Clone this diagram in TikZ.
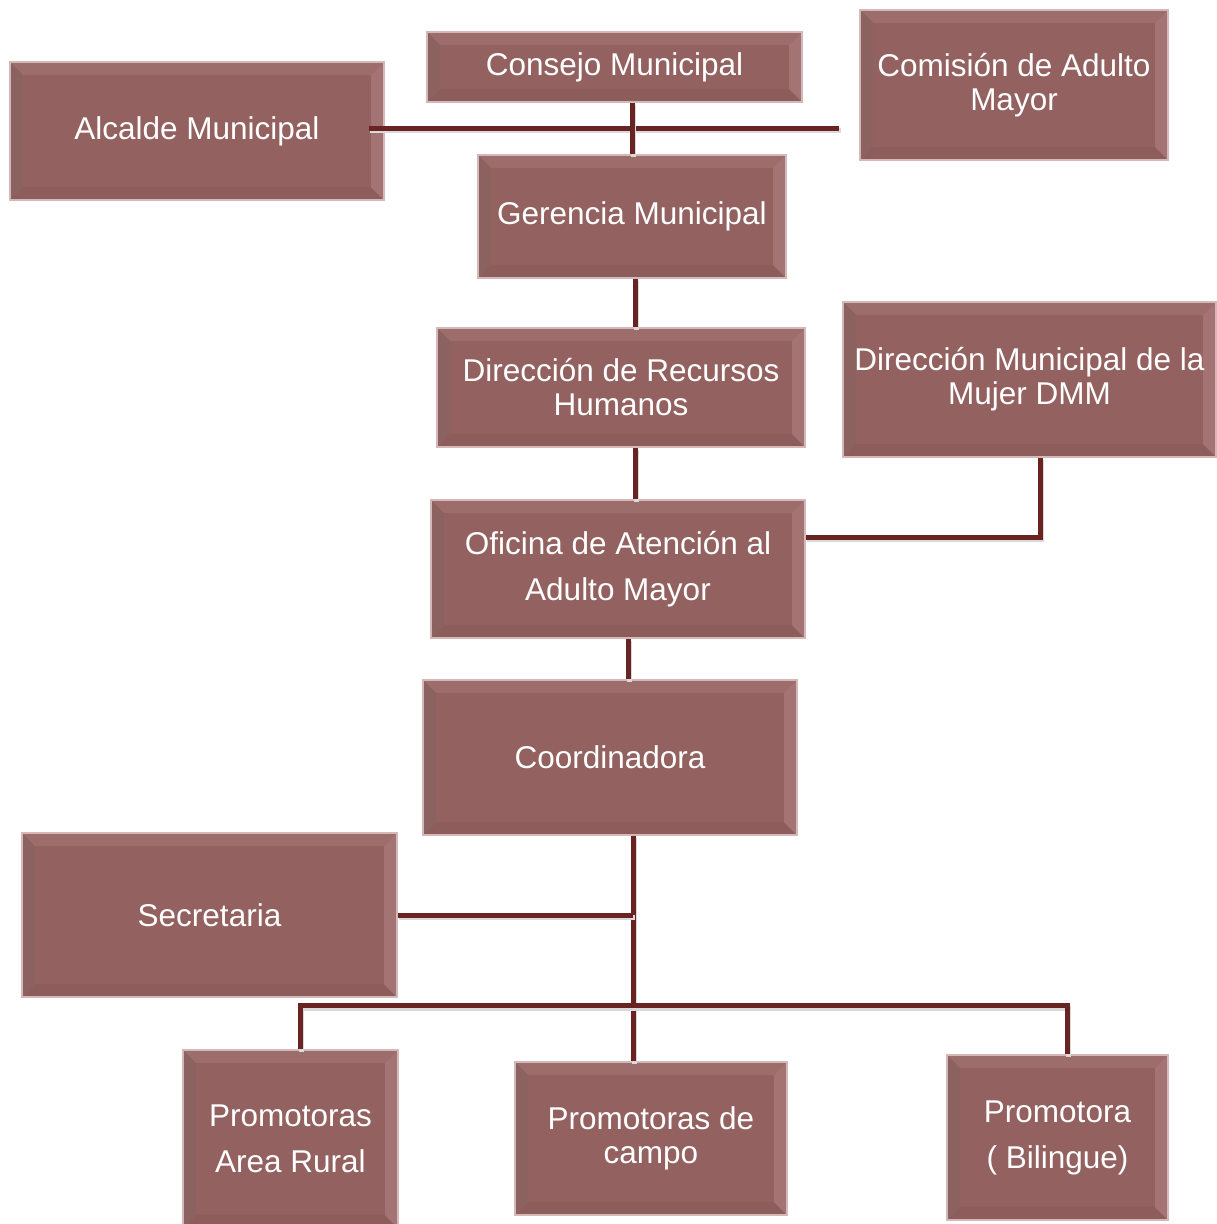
\documentclass[tikz,border=0pt]{standalone}
\usepackage{fontspec}
\setmainfont{Liberation Sans}
\usetikzlibrary{calc}

\definecolor{boxfill}{HTML}{936260}
\definecolor{bevtop}{HTML}{9D6D6C}
\definecolor{bevleft}{HTML}{8B625F}
\definecolor{bevright}{HTML}{A37473}
\definecolor{bevbottom}{HTML}{8D5D5B}
\definecolor{boxedge}{HTML}{D6B8B8}
\definecolor{wirecol}{HTML}{6A2323}

\tikzset{
  orgbox/.style={
    rectangle, fill=boxfill, draw=boxedge, line width=1.6pt,
    inner sep=0pt, text=white, align=center,
    font=\fontsize{31.5}{34}\selectfont,
    path picture={
      \def\pb{path picture bounding box}
      \fill[bevtop] (\pb.north west) -- (\pb.north east)
        -- ([shift={(-13pt,-13pt)}]\pb.north east)
        -- ([shift={(13pt,-13pt)}]\pb.north west) -- cycle;
      \fill[bevbottom] (\pb.south west) -- (\pb.south east)
        -- ([shift={(-13pt,13pt)}]\pb.south east)
        -- ([shift={(13pt,13pt)}]\pb.south west) -- cycle;
      \fill[bevleft] (\pb.north west) -- (\pb.south west)
        -- ([shift={(13pt,13pt)}]\pb.south west)
        -- ([shift={(13pt,-13pt)}]\pb.north west) -- cycle;
      \fill[bevright] (\pb.north east) -- (\pb.south east)
        -- ([shift={(-13pt,13pt)}]\pb.south east)
        -- ([shift={(-13pt,-13pt)}]\pb.north east) -- cycle;
    }},
  wire/.style={
    draw=wirecol, line width=5pt,
    preaction={draw=black!15, line width=5pt,
      transform canvas={shift={(1.5pt,-2.5pt)}}}},
  wide/.style={font=\fontsize{31.5}{46}\selectfont}
}

\begin{document}
\begin{tikzpicture}[x=1pt,y=-1pt]
\useasboundingbox (0,0) rectangle (1216,1224);

% organisational units
\node[orgbox, minimum width=375pt, minimum height=70pt]  (consejo)   at (614.5,67)   {Consejo Municipal};
\node[orgbox, minimum width=308pt, minimum height=150pt] (comision)  at (1014,85)    {Comisión de Adulto\\Mayor};
\node[orgbox, minimum width=374pt, minimum height=138pt] (alcalde)   at (197,131)    {Alcalde Municipal};
\node[orgbox, minimum width=308pt, minimum height=123pt] (gerencia)  at (632,216.5)  {Gerencia Municipal};
\node[orgbox, minimum width=368pt, minimum height=119pt] (rrhh)      at (621,387.5)  {Dirección de Recursos\\Humanos};
\node[orgbox, minimum width=373pt, minimum height=155pt] (dmm)       at (1029.5,379.5) {Dirección Municipal de la\\Mujer DMM};
\node[orgbox, wide, minimum width=374pt, minimum height=138pt] (oficina) at (618,569) {Oficina de Atención al\\Adulto Mayor};
\node[orgbox, minimum width=374pt, minimum height=155pt] (coord)     at (610,757.5)  {Coordinadora};
\node[orgbox, minimum width=375pt, minimum height=164pt] (secre)     at (209.5,915)  {Secretaria};
\node[orgbox, wide, minimum width=215pt, minimum height=178pt] (rural) at (290.5,1139) {Promotoras\\Area Rural};
\node[orgbox, minimum width=272pt, minimum height=153pt] (campo)     at (651,1138.5) {Promotoras de\\campo};
\node[orgbox, wide, minimum width=221pt, minimum height=165pt] (bilingue) at (1057.5,1137.5) {Promotora\\( Bilingue)};

% connection points
\coordinate (hL) at ([xshift=-16pt,yshift=3pt]alcalde.east);
\coordinate (hR) at ([xshift=-20pt]comision.west |- hL);
\coordinate (trunk) at ([xshift=23pt]coord.south);
\coordinate (bus) at ($(trunk)+(0,-170pt)$);
\coordinate (busL) at (bus -| {$(rural.north)+(9.5pt,0)$});
\coordinate (busR) at (bus -| {$(bilingue.north)+(9.5pt,0)$});

% connectors
\draw[wire] (hL) -- (hR);
\draw[wire] (consejo.south -| gerencia.north) -- (gerencia.north);
\draw[wire] ([xshift=3pt]gerencia.south) -- ([xshift=3pt]gerencia.south |- rrhh.north);
\draw[wire] ([xshift=17pt]oficina.north |- rrhh.south) -- ([xshift=17pt]oficina.north);
\draw[wire] ([xshift=10.5pt]dmm.south) |- ([yshift=32pt]oficina.east);
\draw[wire] ([xshift=10pt]oficina.south) -- ([xshift=10pt]oficina.south |- coord.north);
\draw[wire] (trunk) -- (trunk |- campo.north);
\draw[wire] (secre.east) -- (secre.east -| trunk);
\draw[wire] (busL |- rural.north) -- (busL) -- (busR) -- (busR |- bilingue.north);
\end{tikzpicture}
\end{document}
